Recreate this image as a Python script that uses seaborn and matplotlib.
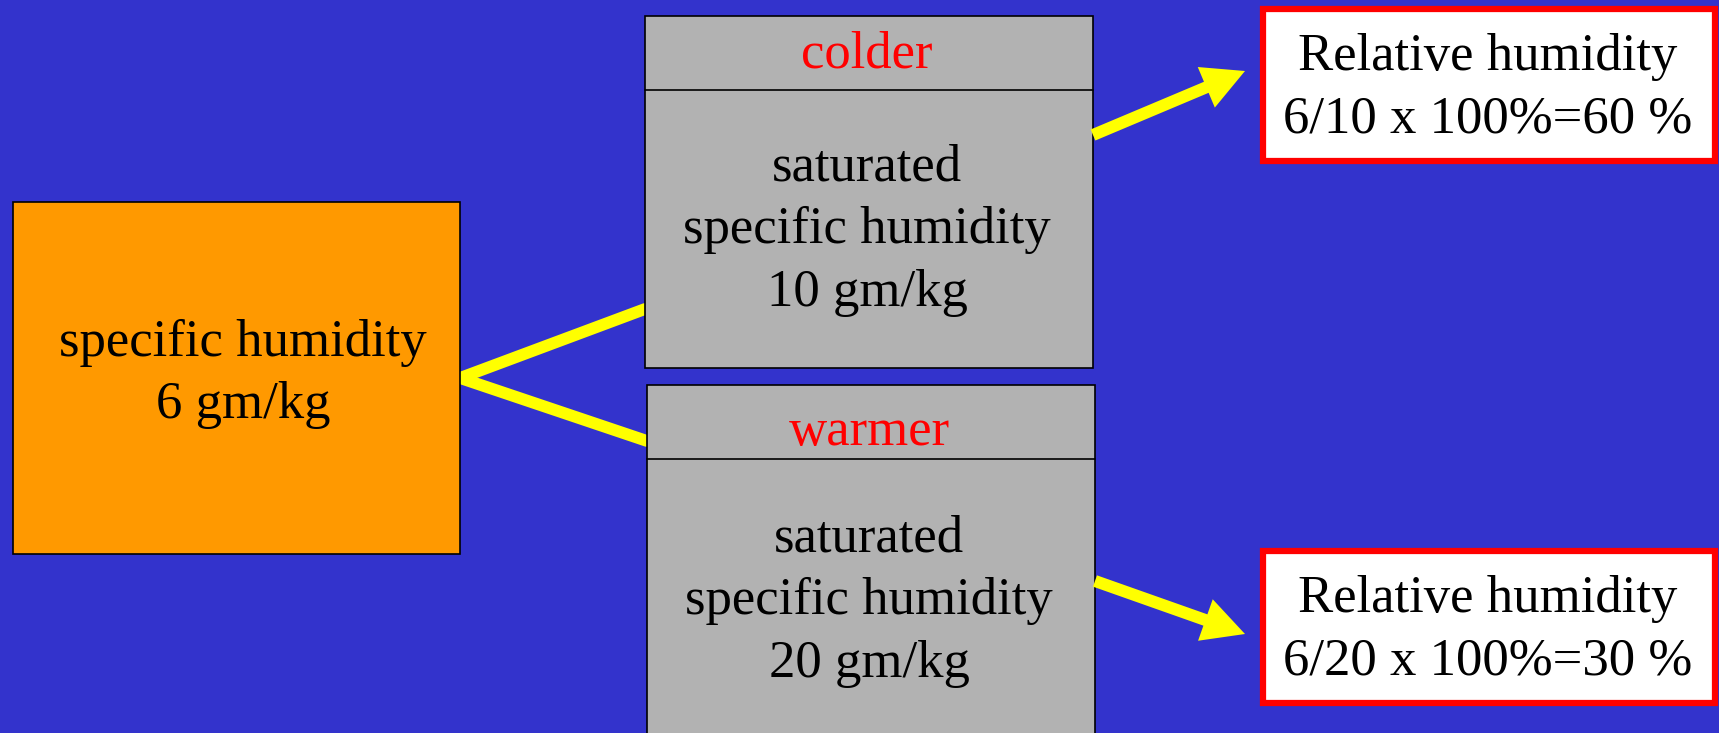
import pandas as pd
import seaborn as sns
import matplotlib.pyplot as plt
from matplotlib.patches import Rectangle, FancyArrow

# values
start_q = 6
sat_q = [10, 20]
sat_labels = ['colder', 'warmer']
rh_fracs = ['6/10', '6/20']
rh_values = [60, 30]

sns.set_style('white')
plt.rcParams['font.family'] = ['Liberation Serif', 'DejaVu Serif']

fig = plt.figure(figsize=(17.19, 7.33), dpi=100)
fig.patch.set_facecolor('#3333cc')
ax = fig.add_axes([0, 0, 1, 1])
ax.set_facecolor('#3333cc')

fs = 38
ls = 1.4

# yellow connectors from the orange box to the two grey boxes
links = pd.DataFrame({
    'x': [460, 645, 460, 647],
    'y': [378, 309, 378, 441],
    'case': ['colder', 'colder', 'warmer', 'warmer'],
})
sns.lineplot(data=links, x='x', y='y', units='case', estimator=None,
             color='#ffff00', linewidth=8.5, ax=ax, legend=False, sort=False)
ax.set_xlim(0, 1719)
ax.set_ylim(733, 0)
ax.axis('off')

# starting air parcel
ax.add_patch(Rectangle((13, 202), 447, 352, fc='#ff9900', ec='black', lw=1.2, zorder=3))
ax.text(243, 374, f'specific humidity\n{start_q} gm/kg', ha='center', va='center',
        color='black', fontsize=fs, linespacing=ls, zorder=4)

# colder / warmer boxes
tops = [16, 385]
lefts = [645, 647]
heights = [352, 360]
label_off = [39, 47]
body_off = [214, 216]
for i in range(2):
    x0, y0 = lefts[i], tops[i]
    ax.add_patch(Rectangle((x0, y0), 448, heights[i], fc='#b2b2b2', ec='black',
                           lw=1.2, zorder=3))
    ax.plot([x0, x0 + 448], [y0 + 74, y0 + 74], color='black', lw=1.2, zorder=4)
    ax.text(x0 + 222, y0 + label_off[i], sat_labels[i], ha='center', va='center',
            color='#ff0000', fontsize=fs, zorder=4)
    ax.text(x0 + 222, y0 + body_off[i], f'saturated\nspecific humidity\n{sat_q[i]} gm/kg',
            ha='center', va='center', color='black', fontsize=fs, linespacing=ls, zorder=4)

# arrows to relative humidity boxes
arrows = [((1093, 135), (1245, 71)), ((1095, 581), (1245, 634))]
for (xa, ya), (xb, yb) in arrows:
    ax.add_patch(FancyArrow(xa, ya, xb - xa, yb - ya, width=12, head_width=44,
                            head_length=42, length_includes_head=True,
                            fc='#ffff00', ec='none', zorder=3))

rh_tops = [9, 551]
for i in range(2):
    ax.add_patch(Rectangle((1263, rh_tops[i]), 452, 152, fc='white', ec='#ff0000',
                           lw=4.5, zorder=3))
    ax.text(1488, rh_tops[i] + 79, f'Relative humidity\n{rh_fracs[i]} x 100%={rh_values[i]} %',
            ha='center', va='center', color='black', fontsize=fs, linespacing=ls, zorder=4)

fig.savefig('out.png', dpi=100, facecolor=fig.get_facecolor())
